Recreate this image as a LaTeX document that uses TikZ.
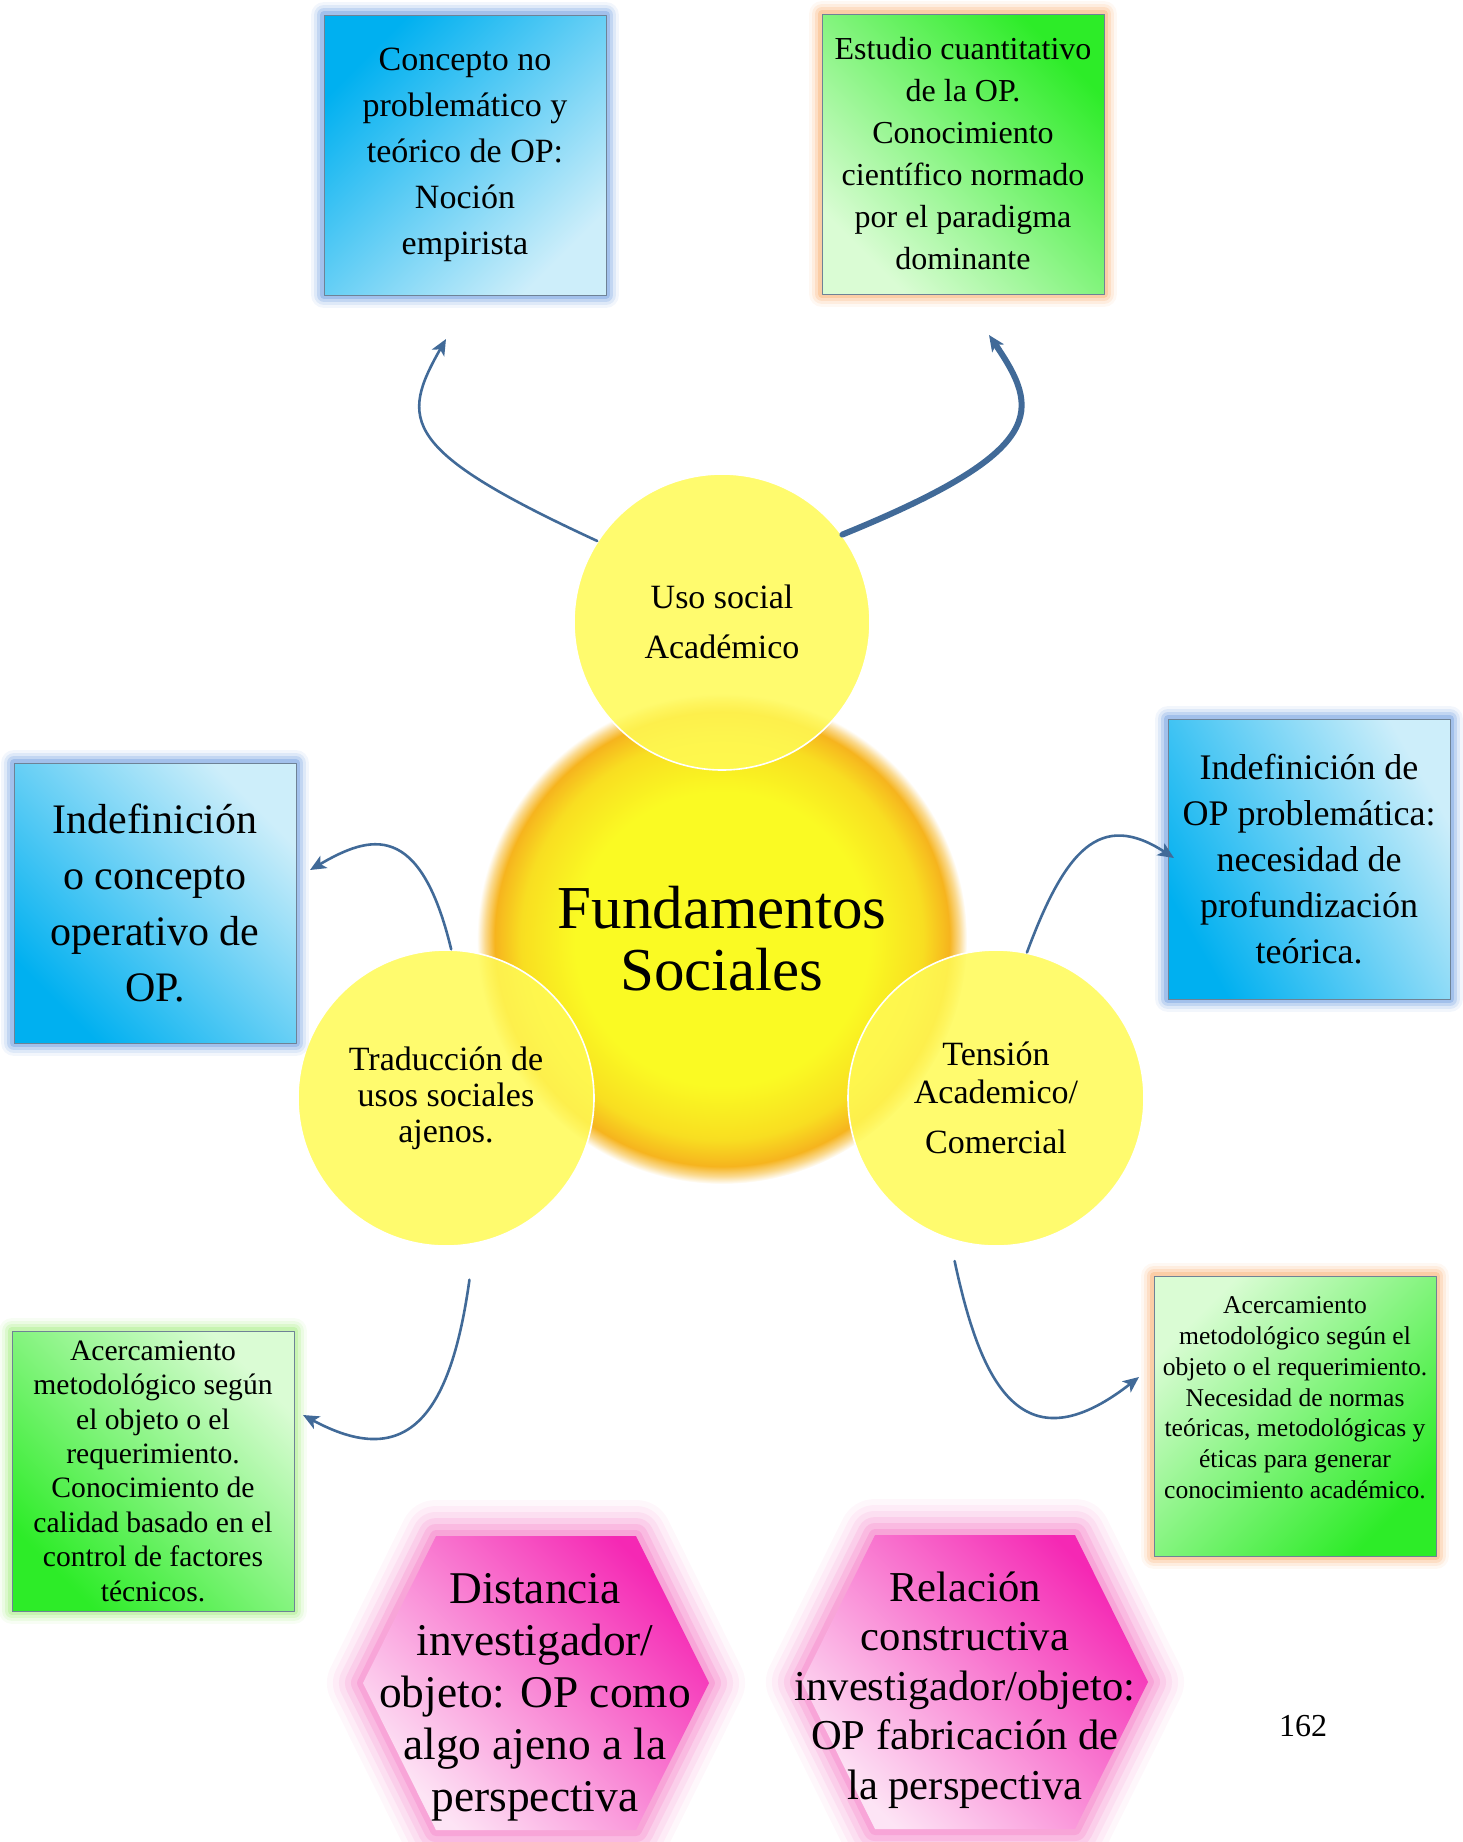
\documentclass[tikz,border=0pt]{standalone}
\usepackage{fontspec}
\setmainfont{Liberation Serif}
\usetikzlibrary{arrows.meta}

\definecolor{arrowblue}{RGB}{65,106,152}
\definecolor{skyblue}{RGB}{0,176,240}
\definecolor{paleblue}{RGB}{205,238,250}
\definecolor{blueglow}{RGB}{130,170,228}
\definecolor{leafgreen}{RGB}{45,236,40}
\definecolor{palegreen}{RGB}{218,252,212}
\definecolor{orangeglow}{RGB}{250,188,135}
\definecolor{greenglow}{RGB}{180,240,150}
\definecolor{boxedge}{RGB}{110,130,150}
\definecolor{circyellow}{RGB}{255,250,85}
\definecolor{sunyellow}{RGB}{250,250,35}
\definecolor{sunorange}{RGB}{246,180,30}
\definecolor{hexpink}{RGB}{245,40,180}
\definecolor{hexpale}{RGB}{253,228,245}
\definecolor{hexhalo}{RGB}{246,140,205}

\pgfdeclareradialshading{sunshade}{\pgfpoint{0bp}{0bp}}{color(0bp)=(sunyellow); color(15bp)=(sunyellow); color(20.5bp)=(sunorange!40!sunyellow); color(23.2bp)=(sunorange); color(24.2bp)=(sunorange!50!white); color(25bp)=(white); color(50bp)=(white)}

\tikzset{
  glow/.style={preaction={draw=#1,draw opacity=.1,line width=13pt,line join=round},
    preaction={draw=#1,draw opacity=.18,line width=10pt,line join=round},
    preaction={draw=#1,draw opacity=.3,line width=7pt,line join=round},
    preaction={draw=#1,draw opacity=.5,line width=4pt,line join=round}},
  hexglow/.style={preaction={draw=#1,draw opacity=.07,line width=36pt,line join=round},
    preaction={draw=#1,draw opacity=.1,line width=30pt,line join=round},
    preaction={draw=#1,draw opacity=.14,line width=24pt,line join=round},
    preaction={draw=#1,draw opacity=.2,line width=18pt,line join=round},
    preaction={draw=#1,draw opacity=.3,line width=12pt,line join=round},
    preaction={draw=#1,draw opacity=.45,line width=6pt,line join=round}},
  note/.style={rectangle,draw=boxedge,line width=.5pt,minimum width=141pt,minimum height=140pt,align=center,inner sep=0pt},
  bubble/.style={circle,fill=circyellow,fill opacity=.85,text opacity=1,draw=white,line width=.8pt,minimum size=148pt,align=center,inner sep=0pt},
  link/.style={draw=arrowblue,line width=1.3pt,->}
}

\begin{document}
\begin{tikzpicture}[line cap=round,line join=round,>={Stealth[length=8pt,width=7pt,inset=2pt]},x=0.5pt,y=-0.5pt,font=\normalsize]
    \useasboundingbox (0,0) rectangle (1462,1842);

    \node[circle,shade,shading=sunshade,minimum size=245pt,align=center,inner sep=0pt,font=\fontsize{30.5}{31}\selectfont] (fund) at (722,939) {Fundamentos\\Sociales};
    \node[bubble,font=\fontsize{17}{25}\selectfont] (uso) at (722,622) {Uso social\\Académico};
    \node[bubble,font=\fontsize{17}{18}\selectfont] (trad) at (446,1098) {Traducción de\\usos sociales\\ajenos.};
    \node[bubble,font=\fontsize{17}{19}\selectfont] (tens) at (996,1098) {Tensión\\Academico/\\[5.7pt]Comercial};

    \node[note,glow=blueglow,left color=skyblue,right color=paleblue,shading angle=45,font=\fontsize{17}{23}\selectfont] (empir) at (465,155) {Concepto no\\problemático y\\teórico de OP:\\Noción\\empirista};
    \node[note,glow=orangeglow,left color=palegreen,right color=leafgreen,shading angle=135,font=\fontsize{16}{21}\selectfont] (paradig) at (963,154) {Estudio cuantitativo\\de la OP.\\Conocimiento\\científico normado\\por el paradigma\\dominante};
    \node[note,glow=blueglow,left color=skyblue,right color=paleblue,shading angle=135,font=\fontsize{21}{28}\selectfont] (operat) at (155,903) {Indefinición\\o concepto\\operativo de\\OP.};
    \node[note,glow=blueglow,left color=skyblue,right color=paleblue,shading angle=120,font=\fontsize{18}{23}\selectfont] (profund) at (1309,859) {Indefinición de\\OP problemática:\\necesidad de\\profundización\\teórica.};
    \node[note,glow=greenglow,left color=leafgreen,right color=palegreen,shading angle=135,font=\fontsize{14.8}{17.2}\selectfont] (calidad) at (153,1471) {Acercamiento\\metodológico según\\el objeto o el\\requerimiento.\\Conocimiento de\\calidad basado en el\\control de factores\\técnicos.};
    \node[note,glow=orangeglow,left color=palegreen,right color=leafgreen,shading angle=45,font=\fontsize{12.8}{15.4}\selectfont] (academ) at (1295,1416) {Acercamiento\\metodológico según el\\objeto o el requerimiento.\\Necesidad de normas\\teóricas, metodológicas y\\éticas para generar\\conocimiento académico.\\[3pt]\mbox{}};

    \coordinate (tipA) at (446,339);
    \coordinate (tipB) at (989,335);
    \coordinate (tipC) at (310,870);
    \coordinate (tipD) at (1174,858);
    \coordinate (tipE) at (303,1415);
    \coordinate (tipF) at (1139,1377);

    \draw[link] (uso.147) .. controls (400,450) and (400,420) .. (tipA);
    \draw[link,line width=3pt] (uso.36) .. controls (1050,450) and (1040,410) .. (tipB);
    \draw[link] (trad.88) .. controls (420,820) and (370,835) .. (tipC);
    \draw[link] (tens.78) .. controls (1065,850) and (1100,810) .. (tipD);
    \draw[link,shorten <=18pt] (trad.-79) .. controls (450,1420) and (405,1470) .. (tipE);
    \draw[link,shorten <=11pt] (tens.252) .. controls (980,1380) and (1020,1470) .. (tipF);

    \shade[hexglow=hexhalo,left color=hexpale,right color=hexpink,shading angle=135,shift={(536,1683)}] (-100,-147) -- (100,-147) -- (173,0) -- (100,147) -- (-100,147) -- (-173,0) -- cycle;
    \node[align=center,font=\fontsize{22.7}{26}\selectfont] (distan) at (535,1697) {Distancia\\investigador/\\objeto: OP como\\algo ajeno a la\\perspectiva};
    \shade[hexglow=hexhalo,left color=hexpale,right color=hexpink,shading angle=135,shift={(975,1682)}] (-100,-147) -- (100,-147) -- (173,0) -- (100,147) -- (-100,147) -- (-173,0) -- cycle;
    \node[align=center,font=\fontsize{21.3}{24.7}\selectfont] (relac) at (965,1690) {Relación\\constructiva\\investigador/objeto:\\OP fabricación de\\la perspectiva};

    \node[font=\fontsize{16}{19}\selectfont] (pagenum) at (1303,1726) {162};
\end{tikzpicture}
\end{document}
